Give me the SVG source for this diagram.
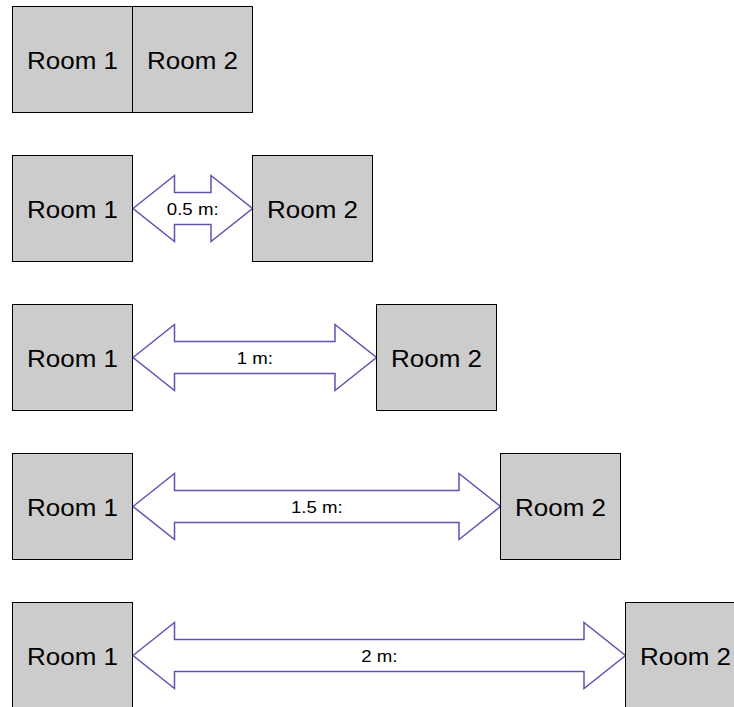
<svg xmlns="http://www.w3.org/2000/svg" width="734" height="707" viewBox="0 0 734 707">
<style>
.room{fill:#cccccc;stroke:#000000;stroke-width:1}
.rt{font-family:"Liberation Sans",Arial,sans-serif;font-size:23px;fill:#000000;text-anchor:middle}
.arrow{fill:#ffffff;stroke:#6152b0;stroke-width:1.5;stroke-linejoin:miter}
.lt{font-family:"Liberation Sans",Arial,sans-serif;font-size:16.5px;fill:#000000;text-anchor:middle}
</style>
<rect width="734" height="707" fill="#ffffff"/>
<g id="connectors">
<g id="arrow-0-5">
<path class="arrow" d="M133,208.5 L174.5,175.5 L174.5,192.5 L211,192.5 L211,175.5 L252.5,208.5 L211,241.5 L211,224.5 L174.5,224.5 L174.5,241.5 Z"/>
<text class="lt" transform="translate(192.7,215) scale(1.13,1)">0.5 m:</text>
</g>
<g id="arrow-1">
<path class="arrow" d="M133,357.5 L174.5,324.5 L174.5,341.5 L335,341.5 L335,324.5 L376.5,357.5 L335,390.5 L335,373.5 L174.5,373.5 L174.5,390.5 Z"/>
<text class="lt" transform="translate(254.8,364) scale(1.13,1)">1 m:</text>
</g>
<g id="arrow-1-5">
<path class="arrow" d="M133,506.5 L174.5,473.5 L174.5,490.5 L459,490.5 L459,473.5 L500.5,506.5 L459,539.5 L459,522.5 L174.5,522.5 L174.5,539.5 Z"/>
<text class="lt" transform="translate(316.8,513) scale(1.13,1)">1.5 m:</text>
</g>
<g id="arrow-2">
<path class="arrow" d="M133,655.5 L174.5,622.5 L174.5,639.5 L584,639.5 L584,622.5 L625.5,655.5 L584,688.5 L584,671.5 L174.5,671.5 L174.5,688.5 Z"/>
<text class="lt" transform="translate(379.3,662) scale(1.13,1)">2 m:</text>
</g>
</g>
<g id="row1-room1"><rect class="room" x="12.5" y="6.5" width="120" height="106"/><text class="rt" transform="translate(72.5,68.5) scale(1.13,1)">Room 1</text></g>
<g id="row1-room2"><rect class="room" x="132.5" y="6.5" width="120" height="106"/><text class="rt" transform="translate(192.5,68.5) scale(1.13,1)">Room 2</text></g>
<g id="row2-room1"><rect class="room" x="12.5" y="155.5" width="120" height="106"/><text class="rt" transform="translate(72.5,217.5) scale(1.13,1)">Room 1</text></g>
<g id="row2-room2"><rect class="room" x="252.5" y="155.5" width="120" height="106"/><text class="rt" transform="translate(312.5,217.5) scale(1.13,1)">Room 2</text></g>
<g id="row3-room1"><rect class="room" x="12.5" y="304.5" width="120" height="106"/><text class="rt" transform="translate(72.5,366.5) scale(1.13,1)">Room 1</text></g>
<g id="row3-room2"><rect class="room" x="376.5" y="304.5" width="120" height="106"/><text class="rt" transform="translate(436.5,366.5) scale(1.13,1)">Room 2</text></g>
<g id="row4-room1"><rect class="room" x="12.5" y="453.5" width="120" height="106"/><text class="rt" transform="translate(72.5,515.5) scale(1.13,1)">Room 1</text></g>
<g id="row4-room2"><rect class="room" x="500.5" y="453.5" width="120" height="106"/><text class="rt" transform="translate(560.5,515.5) scale(1.13,1)">Room 2</text></g>
<g id="row5-room1"><rect class="room" x="12.5" y="602.5" width="120" height="106"/><text class="rt" transform="translate(72.5,664.5) scale(1.13,1)">Room 1</text></g>
<g id="row5-room2"><rect class="room" x="625.5" y="602.5" width="120" height="106"/><text class="rt" transform="translate(685.5,664.5) scale(1.13,1)">Room 2</text></g>
</svg>
